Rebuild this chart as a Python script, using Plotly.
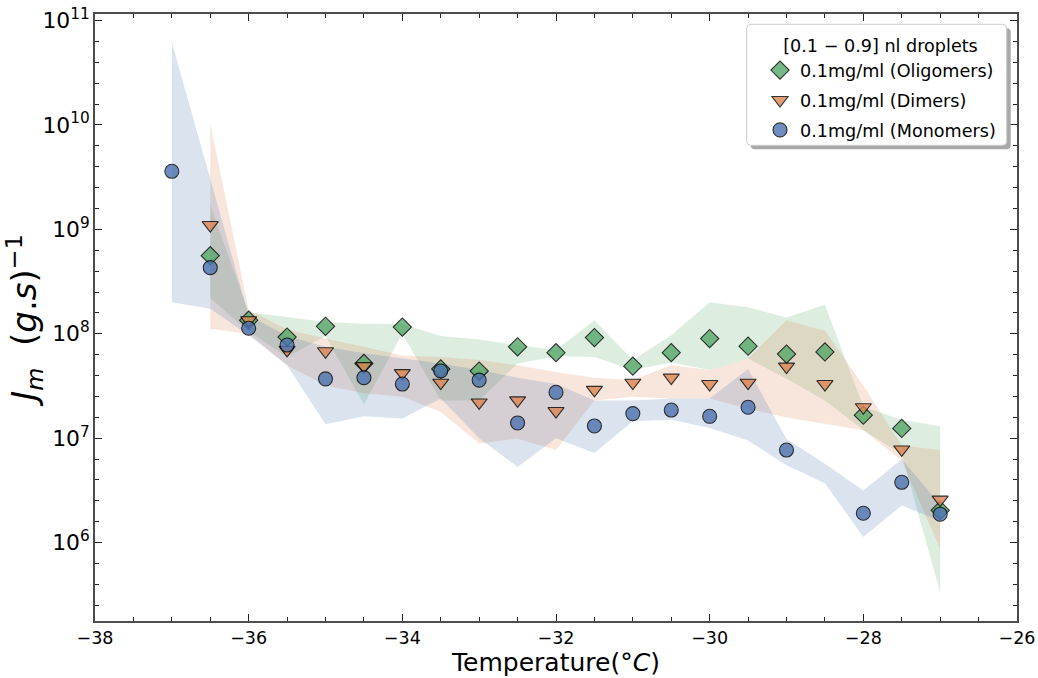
import plotly.graph_objects as go

# Temperature grid (°C)
temps = [-37.0, -36.5, -36.0, -35.5, -35.0, -34.5, -34.0, -33.5, -33.0, -32.5, -32.0,
         -31.5, -31.0, -30.5, -30.0, -29.5, -29.0, -28.5, -28.0, -27.5, -27.0]

# Nucleation rate J_m (g.s)^-1, 0.1 mg/ml oligomers
oligomers = [None, 5.6e8, 1.35e8, 9.3e7, 1.18e8, 5.2e7, 1.16e8, 4.6e7, 4.4e7, 7.5e7, 6.6e7,
             9.2e7, 4.9e7, 6.6e7, 9.0e7, 7.6e7, 6.4e7, 6.7e7, 1.66e7, 1.24e7, 2.04e6]
oligomers_hi = [None, 1.7e9, 1.6e8, 1.45e8, 1.3e8, 1.25e8, 1.24e8, 9.5e7, 8.8e7, 7.8e7, 7.0e7,
                1.35e8, 5.6e7, 9.7e7, 2.0e8, 1.8e8, 1.43e8, 1.9e8, 2.0e7, 1.5e7, 1.3e7]
oligomers_lo = [None, 2.2e8, 1.05e8, 6.0e7, 9.5e7, 2.1e7, 1.0e8, 2.3e7, 2.3e7, 5.2e7, 6.1e7,
                6.0e7, 4.5e7, 5.3e7, 4.5e7, 5.8e7, 3.7e7, 2.3e7, 1.2e7, 7.0e6, 3.3e5]

# 0.1 mg/ml dimers
dimers = [None, 1.1e9, 1.35e8, 7.0e7, 6.8e7, 4.9e7, 4.2e7, 3.4e7, 2.2e7, 2.3e7, 1.82e7,
          2.9e7, 3.4e7, 3.8e7, 3.3e7, 3.4e7, 4.85e7, 3.3e7, 1.98e7, 7.8e6, 2.58e6]
dimers_hi = [None, 1.03e10, 1.7e8, 1.1e8, 9.0e7, 7.5e7, 6.2e7, 6.0e7, 5.6e7, 5.0e7, 4.3e7,
             3.8e7, 3.6e7, 5.0e7, 4.5e7, 5.8e7, 1.35e8, 1.07e8, 3.2e7, 8.5e6, 7.7e6]
dimers_lo = [None, 1.12e8, 1.0e8, 5.0e7, 3.2e7, 2.7e7, 2.5e7, 1.78e7, 8.9e6, 9.9e6, 7.7e6,
             2.3e7, 2.5e7, 2.4e7, 2.4e7, 1.93e7, 1.58e7, 1.38e7, 1.19e7, 6.1e6, 8.7e5]

# 0.1 mg/ml monomers
monomers = [3.6e9, 4.3e8, 1.13e8, 7.8e7, 3.7e7, 3.8e7, 3.3e7, 4.4e7, 3.6e7, 1.4e7, 2.75e7,
            1.31e7, 1.72e7, 1.86e7, 1.62e7, 1.98e7, 7.7e6, None, 1.91e6, 3.78e6, 1.87e6]
monomers_hi = [6.2e10, 3.0e9, 1.5e8, 9.5e7, 7.5e7, 6.5e7, 5.8e7, 5.2e7, 4.5e7, 3.8e7, 3.3e7,
               2.3e7, 2.3e7, 2.4e7, 2.4e7, 4.6e7, 9.8e6, 5.7e6, 3.16e6, 6.3e6, 2.3e6]
monomers_lo = [2.0e8, 1.74e8, 9.7e7, 5.0e7, 1.36e7, 1.62e7, 1.54e7, 2.4e7, 1.0e7, 5.3e6, 1.0e7,
               7.2e6, 1.45e7, 1.5e7, 1.25e7, 9.5e6, 5.5e6, 3.7e6, 1.13e6, 2.27e6, 1.6e6]

series = [
    ("0.1mg/ml (Oligomers)", oligomers, oligomers_hi, oligomers_lo, (85, 168, 104), "diamond", 14),
    ("0.1mg/ml (Dimers)", dimers, dimers_hi, dimers_lo, (221, 132, 82), "triangle-down", 14),
    ("0.1mg/ml (Monomers)", monomers, monomers_hi, monomers_lo, (76, 114, 176), "circle", 14),
]

FONT = "DejaVu Sans"
fig = go.Figure()

# shaded spread bands
for name, vals, hi, lo, rgb, sym, size in series:
    xs = [t for t, u, l in zip(temps, hi, lo) if u is not None and l is not None]
    up = [u for u, l in zip(hi, lo) if u is not None and l is not None]
    dn = [l for u, l in zip(hi, lo) if u is not None and l is not None]
    fig.add_trace(go.Scatter(
        x=xs + xs[::-1], y=up + dn[::-1], mode="lines", fill="toself",
        fillcolor="rgba(%d,%d,%d,0.2)" % rgb, line=dict(width=0),
        showlegend=False, hoverinfo="skip"))

# mean values
for i, (name, vals, hi, lo, rgb, sym, size) in enumerate(series):
    xs = [t for t, v in zip(temps, vals) if v is not None]
    ys = [v for v in vals if v is not None]
    fig.add_trace(go.Scatter(
        x=xs, y=ys, mode="markers", name=name, legendgroup="g%d" % i,
        marker=dict(symbol=sym, size=size, color="rgb(%d,%d,%d)" % rgb, opacity=0.8,
                    line=dict(color="black", width=1.1))))

# legend frame with drop shadow
px_x, px_y = 1 / 922.0, 1 / 607.0
bx0, bx1 = (746.7 - 95) * px_x, (1006.7 - 95) * px_x
by1, by0 = 1 - (24 - 13.7) * px_y, 1 - (145 - 13.7) * px_y


def rounded(x0, y0, x1, y1, r=4):
    rx, ry = r * px_x, r * px_y
    return (f"M{x0 + rx},{y0} L{x1 - rx},{y0} Q{x1},{y0} {x1},{y0 + ry} "
            f"L{x1},{y1 - ry} Q{x1},{y1} {x1 - rx},{y1} L{x0 + rx},{y1} "
            f"Q{x0},{y1} {x0},{y1 - ry} L{x0},{y0 + ry} Q{x0},{y0} {x0 + rx},{y0} Z")


sh = 4
fig.add_shape(type="path", xref="paper", yref="paper", layer="above",
              path=rounded(bx0 + sh * px_x, by0 - sh * px_y, bx1 + sh * px_x, by1 - sh * px_y),
              fillcolor="#a8a8a8", line=dict(width=0))
fig.add_shape(type="path", xref="paper", yref="paper", layer="above",
              path=rounded(bx0, by0, bx1, by1),
              fillcolor="white", line=dict(color="#cccccc", width=1))

axis_common = dict(
    showline=True, linecolor="#4d4d4d", linewidth=1.6, mirror="allticks",
    ticks="inside", ticklen=7, tickwidth=1.2, tickcolor="#222222",
    showgrid=False, zeroline=False,
)

fig.update_layout(
    template="none",
    width=1038, height=678,
    margin=dict(l=95, r=21, t=14, b=57),
    paper_bgcolor="white", plot_bgcolor="white",
    font=dict(family=FONT, color="black"),
    showlegend=True,
    legend=dict(
        x=(760 - 95) * px_x, y=1 - (29 - 13.7) * px_y, xanchor="left", yanchor="top",
        bgcolor="rgba(0,0,0,0)", borderwidth=0,
        font=dict(family=FONT, size=17.6, color="black"),
        title=dict(text="[0.1 − 0.9] nl droplets", side="top center",
                   font=dict(family=FONT, size=17.6, color="black")),
        tracegroupgap=4, itemsizing="trace",
    ),
    xaxis=dict(
        axis_common, range=[-38, -26], dtick=2, tick0=-38,
        tickfont=dict(family=FONT, size=17.5, color="black"),
        minor=dict(ticks="inside", ticklen=4, tickwidth=1, tickcolor="#222222", dtick=0.5),
        title=dict(text="Temperature(°<i>C</i>)", font=dict(family=FONT, size=25, color="black"),
                   standoff=6),
    ),
    yaxis=dict(
        axis_common, type="log", range=[5.249, 11.063], dtick=1,
        exponentformat="power", showexponent="all",
        tickfont=dict(family=FONT, size=17.5, color="black"),
        minor=dict(ticks="inside", ticklen=4, tickwidth=1, tickcolor="#222222",
                   dtick=0.2, tick0=0),
        title=dict(text="<i>J</i><sub><i>m</i></sub>  (<i>g</i>.<i>s</i>)<sup>−1</sup>",
                   font=dict(family=FONT, size=34, color="black"), standoff=4),
    ),
)

fig.write_html("out.html")
